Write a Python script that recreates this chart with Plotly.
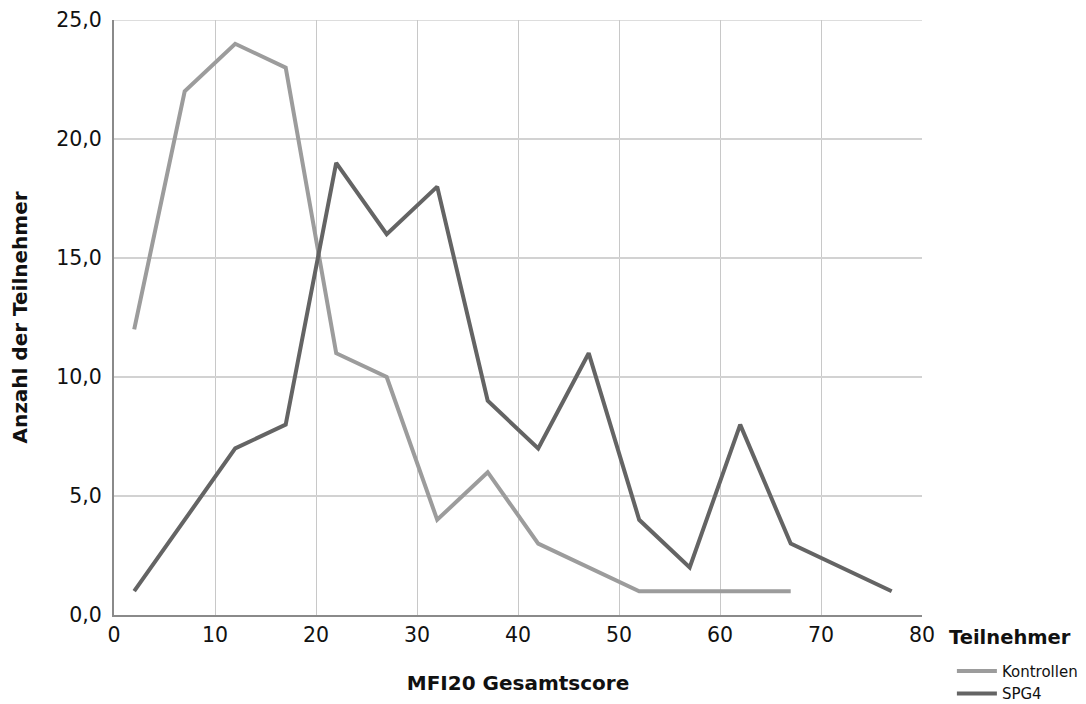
import plotly.graph_objects as go

x_kontrollen = [2, 7, 12, 17, 22, 27, 32, 37, 42, 47, 52, 57, 62, 67]
y_kontrollen = [12, 22, 24, 23, 11, 10, 4, 6, 3, 2, 1, 1, 1, 1]
x_spg4 = [2, 7, 12, 17, 22, 27, 32, 37, 42, 47, 52, 57, 62, 67, 72, 77]
y_spg4 = [1, 4, 7, 8, 19, 16, 18, 9, 7, 11, 4, 2, 8, 3, 2, 1]
x_ticks = [0, 10, 20, 30, 40, 50, 60, 70, 80]
y_ticks = [0, 5, 10, 15, 20, 25]

FONT = "DejaVu Sans"

fig = go.Figure()
fig.add_trace(go.Scatter(x=x_kontrollen, y=y_kontrollen, mode="lines", name="Kontrollen",
                         line=dict(color="#9c9c9c", width=4)))
fig.add_trace(go.Scatter(x=x_spg4, y=y_spg4, mode="lines", name="SPG4",
                         line=dict(color="#646464", width=4)))

# top gridline (plotly drops gridlines at the range edge)
fig.add_shape(type="line", xref="paper", yref="y", x0=0, x1=1, y0=y_ticks[-1], y1=y_ticks[-1],
              line=dict(color="#d2d2d2", width=1.5), layer="below")

fig.add_annotation(text="<b>Teilnehmer</b>", xref="paper", yref="paper",
                   x=1.0304, y=-0.0372, xanchor="left", yanchor="middle",
                   showarrow=False, font=dict(size=19.5, family=FONT, color="#111"))

fig.update_layout(
    width=1086, height=704,
    margin=dict(l=106, r=172, t=12, b=97, autoexpand=False),
    plot_bgcolor="white", paper_bgcolor="white",
    font=dict(family=FONT, color="#111111"),
    separators=",.",
    showlegend=True,
    legend=dict(
        x=1.037, xanchor="left", y=-0.067, yanchor="top",
        font=dict(size=15, family=FONT, color="#111"),
        tracegroupgap=0, itemwidth=40,
        bgcolor="rgba(0,0,0,0)",
    ),
    xaxis=dict(
        range=[0, 80], tickvals=x_ticks, ticks="", showgrid=True,
        gridcolor="#c8c8c8", gridwidth=1.2,
        showline=True, linecolor="#8a8a8a", linewidth=2,
        zeroline=False, tickfont=dict(size=20.5), ticklabelstandoff=0,
        automargin=False, ticklabeloverflow="allow",
        title=dict(text="<b>MFI20 Gesamtscore</b>", font=dict(size=20), standoff=30),
    ),
    yaxis=dict(
        range=[0, 25], tickvals=y_ticks, tickformat=".1f", ticks="", showgrid=True,
        gridcolor="#d2d2d2", gridwidth=1.5,
        showline=True, linecolor="#8a8a8a", linewidth=2,
        zeroline=False, tickfont=dict(size=20.5), ticklabelstandoff=6,
        automargin=False, ticklabeloverflow="allow",
        title=dict(text="<b>Anzahl der Teilnehmer</b>", font=dict(size=20), standoff=26),
    ),
)

fig.write_html("out.html")
